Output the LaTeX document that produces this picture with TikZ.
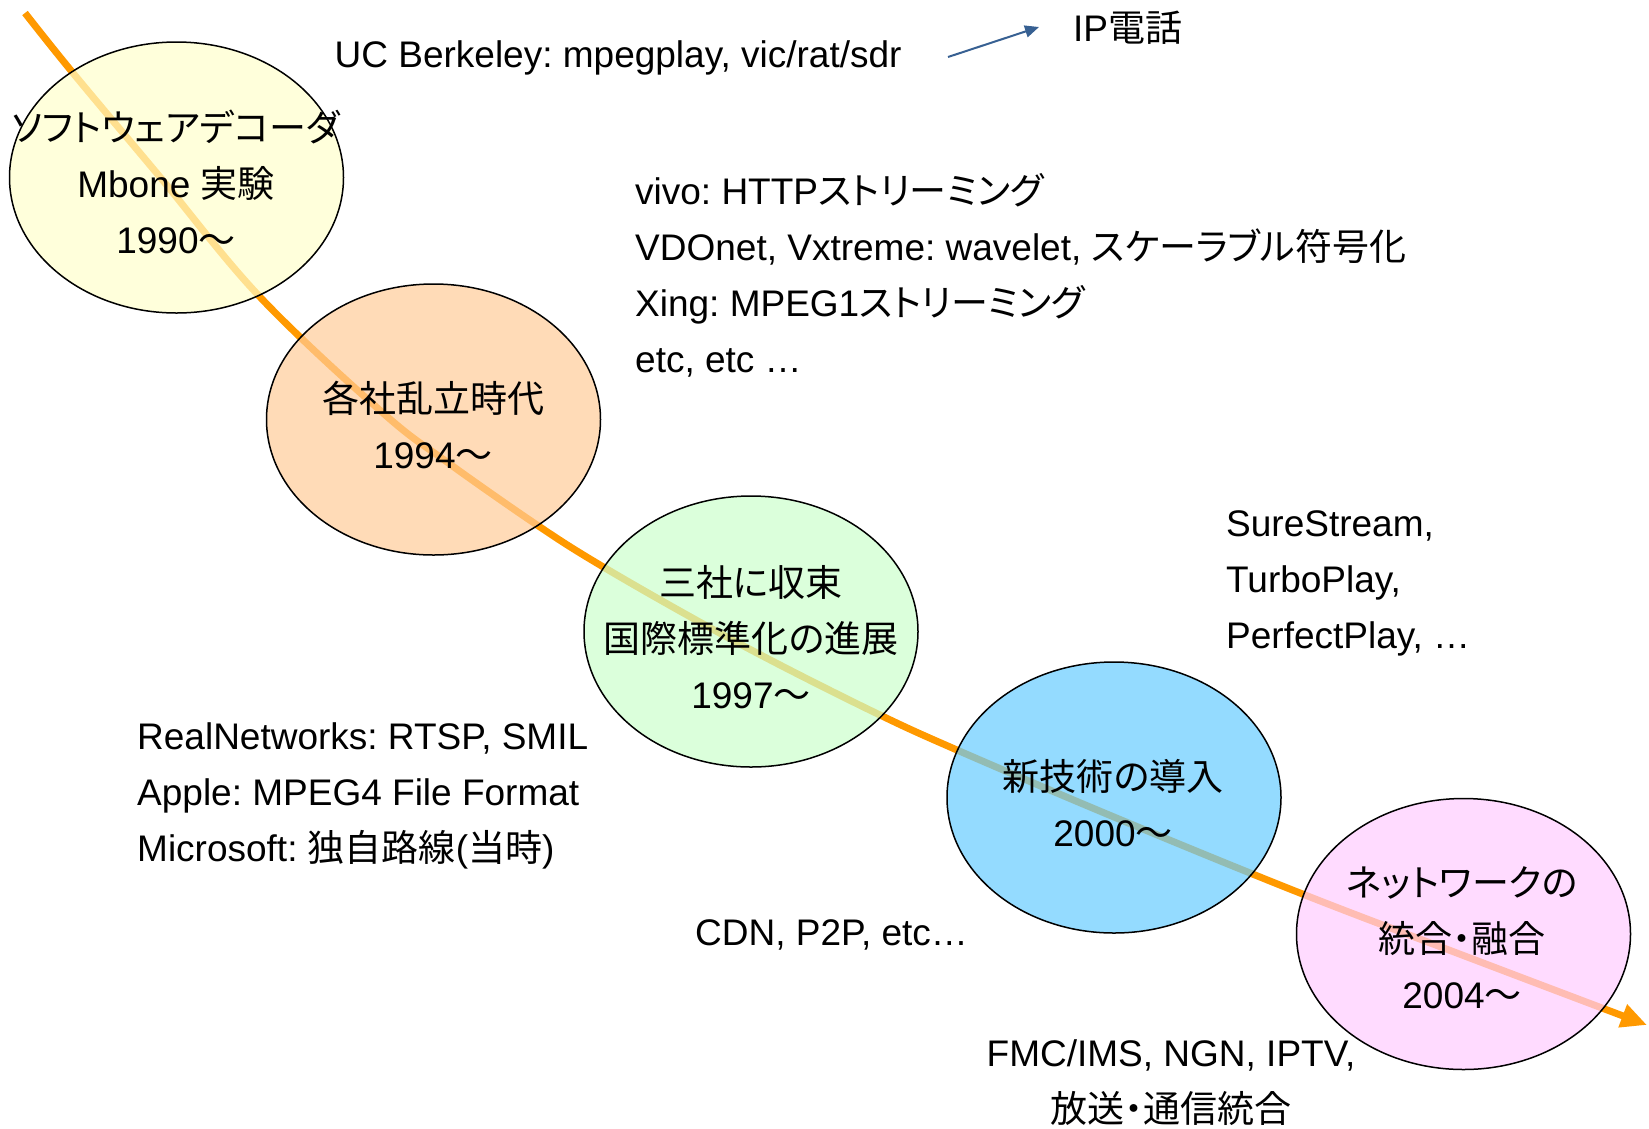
\documentclass[tikz,border=0pt]{standalone}
\usepackage{fontspec}
\setmainfont{Liberation Sans}
\newfontfamily\jp[RawFeature=+palt]{Noto Sans CJK JP}
\usetikzlibrary{shapes.geometric,arrows.meta}
\frenchspacing
\definecolor{tlorange}{HTML}{FF9900}
\definecolor{arrblue}{HTML}{376092}
\definecolor{eyellow}{HTML}{FFFFCC}
\definecolor{eorange}{HTML}{FFCC99}
\definecolor{egreen}{HTML}{CCFFCC}
\definecolor{eblue}{HTML}{66CCFF}
\definecolor{epink}{HTML}{FFCCFF}
\tikzset{
  era/.style={ellipse, draw=black, line width=1.5pt, fill opacity=0.7, draw opacity=1,
    minimum width=334pt, minimum height=271pt, inner sep=0pt},
  txt/.style={inner sep=0pt, font=\fontsize{37}{56}\selectfont\frenchspacing, text=black},
  ctxt/.style={txt, align=center},
  ltxt/.style={txt, align=left, anchor=west},
  timeline/.style={tlorange, line width=7pt, -{Triangle[length=26pt,width=23pt]}},
  pointer/.style={arrblue, line width=2pt, -{Triangle[length=14pt,width=12pt]}}
}
\begin{document}
\begin{tikzpicture}[x=1pt,y=-1pt]
\useasboundingbox (0,0) rectangle (1649,1128);
% timeline
\draw[timeline] plot[smooth, tension=0.6] coordinates {
  (25,13) (73,73) (160,177) (260,297) (383,413) (447,462) (537,525) (600,565)
  (696,620) (780,665) (880,715) (957,750) (1114,817) (1300,893) (1470,958) (1647,1025)};
% eras
\node[era, fill=eyellow] (e1) at (176.5,177.5) {};
\node[era, fill=eorange] (e2) at (433.5,419.5) {};
\node[era, fill=egreen]  (e3) at (751,631.5) {};
\node[era, fill=eblue]   (e4) at (1114,797.5) {};
\node[era, fill=epink]   (e5) at (1463.5,934) {};
% era texts
\node[ctxt] (t1) at (176,182) {{\jp ソフトウェアデコーダ}\\Mbone {\jp 実験}\\1990{\jp ～}};
\node[ctxt] (t2) at (433,425) {{\jp 各社乱立時代}\\1994{\jp ～}};
\node[ctxt] (t3) at (751,637) {{\jp 三社に収束}\\{\jp 国際標準化の進展}\\1997{\jp ～}};
\node[ctxt] (t4) at (1113,803) {{\jp 新技術の導入}\\2000{\jp ～}};
\node[ctxt] (t5) at (1462,938) {{\jp ネットワークの}\\{\jp 統合・融合}\\2004{\jp ～}};
% annotations
\node[ltxt] (uc) at (334.5,58) {UC Berkeley: mpegplay, vic/rat/sdr};
\node[ltxt] (ip) at (1073,28) {IP{\jp 電話}};
\coordinate (pa) at (948,57);
\coordinate (pb) at (1039,27);
\draw[pointer] (pa) -- (pb);
\node[ltxt] (vivo) at (635,275.5) {vivo: HTTP{\jp ストリーミング}\\VDOnet, Vxtreme: wavelet, {\jp スケーラブル符号化}\\Xing: MPEG1{\jp ストリーミング}\\etc, etc …};
\node[ltxt] (real) at (137,795.5) {RealNetworks: RTSP, SMIL\\Apple: MPEG4 File Format\\Microsoft: {\jp 独自路線}({\jp 当時})};
\node[ltxt] (sure) at (1226,583.5) {SureStream,\\TurboPlay,\\PerfectPlay, …};
\node[ltxt] (cdn) at (695,934.5) {CDN, P2P, etc…};
\node[ctxt] (fmc) at (1171,1083) {FMC/IMS, NGN, IPTV,\\{\jp 放送・通信統合}};
\end{tikzpicture}
\end{document}
